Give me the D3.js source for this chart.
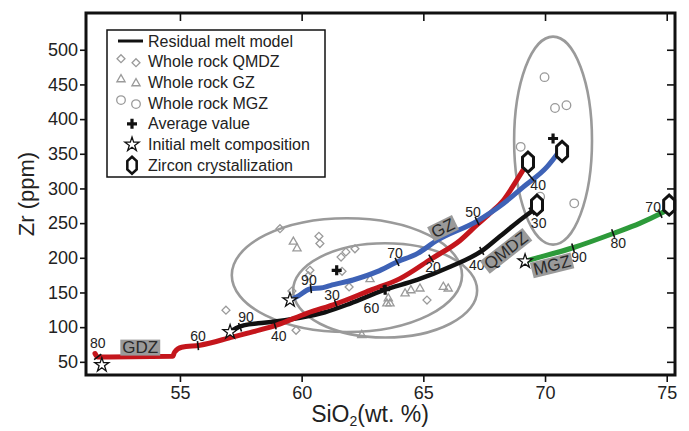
<!DOCTYPE html>
<html>
<head>
<meta charset="utf-8">
<script src="https://cdn.jsdelivr.net/npm/d3@7"></script>
<style>
  html, body { margin: 0; padding: 0; background: #fff; }
  svg { display: block; font-family: "Liberation Sans", Arial, sans-serif; }
</style>
</head>
<body>
<script>
// ---- Data: SiO2 (wt. %) vs Zr (ppm) ----

// Residual melt model curves [SiO2, Zr]
const gdzMelt = [[51.51,62],[51.62,57],[54.70,58],[54.78,64],[55.07,71],[55.82,74],[57.18,86],[58.29,96],
  [58.97,103],[60.21,120],[61.44,134],[62.81,153],[64.04,170],[65.35,199],[66.51,225],[67.19,247],
  [67.80,266],[68.29,283],[68.84,312],[69.18,331]];
const qmdzMelt = [[57.06,93],[57.30,98.5],[57.67,103],[58.21,105.5],[58.90,108],[59.93,113.5],[60.96,121.5],
  [61.99,134],[63.34,153],[64.74,168],[66.10,187],[67.45,211],[68.15,231],[68.85,251],[69.51,268.5]];
const gzMelt = [[59.52,139],[59.81,144],[60.34,155],[60.88,157],[61.17,160],[62.11,168],[63.10,180],
  [63.92,194],[64.75,206],[65.56,225],[67.21,253],[68.28,278],[69.10,302],[70.08,331],[70.62,355]];
const mgzMelt = [[69.18,195],[69.38,197],[71.15,214.5],[72.80,235],[73.91,250],[74.73,263.5],[75.0,268.5]];

// Melt fraction marks along each curve [SiO2, Zr, label]
const gdzMarks  = [[51.62,57,"80"],[55.74,73.3,"60"],[58.90,103,"40"],[61.41,133,"30"],[65.32,199,"20"]];
const qmdzMarks = [[57.47,100,"90"],[63.40,154,"60"],[67.40,210,"40"],[69.45,267,"30"]];
const gzMarks   = [[60.38,155.5,"90"],[63.92,194,"70"],[67.21,253,"50"],[69.43,316,"40"]];
const mgzMarks  = [[71.15,214.5,"90"],[72.80,235,"80"],[74.73,263.5,"70"]];

// Whole rock analyses [SiO2, Zr]
const qmdzRock = [[56.89,124.5],[59.11,242],[60.71,231],[60.75,220.5],[61.62,201],[61.82,208.5],[62.19,213],
  [60.34,182],[60.28,174],[59.60,152],[61.95,158],[59.77,95.5],[65.15,139],[61.66,180.5]];
const gzRock = [[59.66,223],[59.81,213.5],[62.81,169],[63.56,141.5],[63.63,134],[63.50,134],[64.25,148.5],
  [64.49,153],[64.86,155.5],[65.82,158],[66.02,155.5],[62.47,88.5]];
const mgzRock = [[69.98,460.5],[70.41,416],[70.88,420],[69.00,360],[71.20,278.5],[69.80,288]];

// Average values [SiO2, Zr]
const averages = [[61.44,182],[63.43,154],[70.33,372]];
// Initial melt compositions [SiO2, Zr]
const initialMelts = [[51.79,45.5],[57.06,93],[59.52,139],[69.18,195]];
// Zircon crystallization onset [SiO2, Zr]
const zirconPoints = [[69.30,338],[69.67,276],[70.70,353.5],[75.10,276]];

// Compositional fields: centre SiO2, centre Zr, half-width SiO2, half-height Zr
const fields = [[61.86,175,4.73,82],[63.43,153,3.78,68],[70.33,369,1.60,150]];

// Axis ticks
const xTicks = [55, 60, 65, 70, 75];
const yTicks = [50, 100, 150, 200, 250, 300, 350, 400, 450, 500];

// Series names
const seriesNames = ["GDZ", "QMDZ", "GZ", "MGZ"];
const legendLabels = ["Residual melt model", "Whole rock QMDZ", "Whole rock GZ", "Whole rock MGZ",
  "Average value", "Initial melt composition", "Zircon crystallization"];

// ---- Layout / style ----
const W = 689, H = 431;
const plot = { left: 86, right: 675, top: 13, bottom: 375 };
const colors = { GDZ: "#c4161c", QMDZ: "#111111", GZ: "#3e62b6", MGZ: "#2d9a3a" };
const grey = "#9a9a9a";

// label offsets (px) from each melt-fraction mark
const markOffsets = {
  GDZ:  [[0,-14],[0,-10],[4,11],[-4,-9],[2,9]],
  QMDZ: [[6,-10],[-13,18],[-5,14],[7,12]],
  GZ:   [[-2,-9],[-2,-9],[-4,-9],[7,8]],
  MGZ:  [[6,9],[5,9],[-7,-7]]
};
// series name tags: anchor [SiO2, Zr] and rotation
const tagPlacement = {
  GDZ:  { at: [53.37, 70.5], angle: 0 },
  QMDZ: { at: [68.40, 210], angle: -38 },
  GZ:   { at: [65.81, 242.5], angle: -26 },
  MGZ:  { at: [70.29, 189], angle: -14 }
};

const x = d3.scaleLinear().domain([51.14, 75.34]).range([plot.left, plot.right]);
const y = d3.scaleLinear().domain([31, 553]).range([plot.bottom, plot.top]);

const svg = d3.select("body").append("svg").attr("width", W).attr("height", H);
svg.append("rect").attr("width", W).attr("height", H).attr("fill", "#fff");

// ---- Compositional fields ----
svg.append("g").selectAll("ellipse").data(fields).join("ellipse")
  .attr("cx", d => x(d[0])).attr("cy", d => y(d[1]))
  .attr("rx", d => x(d[0] + d[2]) - x(d[0]))
  .attr("ry", d => y(d[1]) - y(d[1] + d[3]))
  .attr("fill", "none").attr("stroke", grey).attr("stroke-width", 2.6);

// ---- Whole rock symbols ----
const diamond = d3.symbol().type(d3.symbolDiamond2).size(40);
const triangle = d3.symbol().type(d3.symbolTriangle2).size(48);
const rocks = svg.append("g").attr("fill", "none").attr("stroke", grey).attr("stroke-width", 1.3);
rocks.selectAll(".qm").data(qmdzRock).join("path").attr("class", "qm")
  .attr("d", diamond).attr("transform", d => `translate(${x(d[0])},${y(d[1])})`);
rocks.selectAll(".gz").data(gzRock).join("path").attr("class", "gz")
  .attr("d", triangle).attr("transform", d => `translate(${x(d[0])},${y(d[1])})`);
rocks.selectAll(".mg").data(mgzRock).join("circle").attr("class", "mg")
  .attr("cx", d => x(d[0])).attr("cy", d => y(d[1])).attr("r", 4.3);

// ---- Residual melt curves ----
const line = d3.line().x(d => x(d[0])).y(d => y(d[1])).curve(d3.curveMonotoneX);
const curves = [
  { name: "QMDZ", pts: qmdzMelt, marks: qmdzMarks, w: 4.5 },
  { name: "GDZ",  pts: gdzMelt,  marks: gdzMarks,  w: 5 },
  { name: "GZ",   pts: gzMelt,   marks: gzMarks,   w: 5 },
  { name: "MGZ",  pts: mgzMelt,  marks: mgzMarks,  w: 5 }
];
curves.forEach(c => {
  svg.append("path").attr("d", line(c.pts)).attr("fill", "none")
    .attr("stroke", colors[c.name]).attr("stroke-width", c.w)
    .attr("stroke-linecap", "round").attr("stroke-linejoin", "round");
});

// melt fraction ticks (perpendicular to the local curve direction) and labels
function localAngle(pts, sx) {
  for (let i = 0; i < pts.length - 1; i++) {
    if (sx >= pts[i][0] && sx <= pts[i + 1][0]) {
      return Math.atan2(y(pts[i + 1][1]) - y(pts[i][1]), x(pts[i + 1][0]) - x(pts[i][0]));
    }
  }
  const n = pts.length;
  return Math.atan2(y(pts[n - 1][1]) - y(pts[n - 2][1]), x(pts[n - 1][0]) - x(pts[n - 2][0]));
}
curves.forEach(c => {
  c.marks.forEach((m, i) => {
    const px = x(m[0]), py = y(m[1]);
    const a = localAngle(c.pts, m[0]);
    const nx = -Math.sin(a), ny = Math.cos(a);
    svg.append("line")
      .attr("x1", px - nx * 4.5).attr("y1", py - ny * 4.5)
      .attr("x2", px + nx * 4.5).attr("y2", py + ny * 4.5)
      .attr("stroke", "#111").attr("stroke-width", 1.6);
    const off = markOffsets[c.name][i];
    svg.append("text").attr("x", px + off[0]).attr("y", py + off[1])
      .attr("text-anchor", "middle").attr("dominant-baseline", "central")
      .attr("font-size", 14).attr("fill", "#222").text(m[2]);
  });
});

// ---- Series name tags ----
seriesNames.forEach(name => {
  const p = tagPlacement[name];
  const g = svg.append("g")
    .attr("transform", `translate(${x(p.at[0])},${y(p.at[1])}) rotate(${p.angle})`);
  const rect = g.append("rect").attr("fill", grey);
  const t = g.append("text").attr("text-anchor", "middle").attr("dominant-baseline", "central")
    .attr("font-size", 17).attr("fill", "#2a2a2a").text(name);
  const w = t.node().getComputedTextLength();
  rect.attr("x", -w / 2 - 2).attr("y", -8).attr("width", w + 4).attr("height", 16);
});

// ---- Initial melts, zircon points, averages ----
const star = d3.symbol().type(d3.symbolStar).size(62);
const hexPath = "M0,-10L5.5,-5L5.5,5L0,10L-5.5,5L-5.5,-5Z";
const plusPath = "M-5,0H5M0,-5V5";

svg.append("g").selectAll("path").data(initialMelts).join("path")
  .attr("d", star).attr("transform", d => `translate(${x(d[0])},${y(d[1])})`)
  .attr("fill", "#fff").attr("stroke", "#111").attr("stroke-width", 1.3);
svg.append("g").selectAll("path").data(zirconPoints).join("path")
  .attr("d", hexPath).attr("transform", d => `translate(${x(d[0])},${y(d[1])})`)
  .attr("fill", "#fff").attr("stroke", "#111").attr("stroke-width", 3);
svg.append("g").selectAll("path").data(averages).join("path")
  .attr("d", plusPath).attr("transform", d => `translate(${x(d[0])},${y(d[1])})`)
  .attr("fill", "none").attr("stroke", "#111").attr("stroke-width", 3.2);

// ---- Axes ----
const fontAxis = 18;
const gx = svg.append("g").attr("transform", `translate(0,${plot.bottom})`)
  .call(d3.axisBottom(x).tickValues(xTicks).tickSize(7).tickSizeOuter(0).tickPadding(4));
const gy = svg.append("g").attr("transform", `translate(${plot.left},0)`)
  .call(d3.axisLeft(y).tickValues(yTicks).tickSize(6).tickSizeOuter(0).tickPadding(2));
const gt = svg.append("g").attr("transform", `translate(0,${plot.top})`)
  .call(d3.axisTop(x).tickValues(xTicks).tickSize(-8).tickSizeOuter(0).tickFormat(""));
const gr = svg.append("g").attr("transform", `translate(${plot.right},0)`)
  .call(d3.axisRight(y).tickValues(yTicks).tickSize(-8).tickSizeOuter(0).tickFormat(""));
[gx, gy, gt, gr].forEach(g => {
  g.select(".domain").remove();
  g.selectAll(".tick line").attr("stroke", "#111").attr("stroke-width", 1.6);
  g.selectAll(".tick text").attr("font-size", fontAxis).attr("fill", "#222")
    .attr("font-family", "Liberation Sans, Arial, sans-serif");
});

// plot frame
svg.append("rect").attr("x", plot.left).attr("y", plot.top)
  .attr("width", plot.right - plot.left).attr("height", plot.bottom - plot.top)
  .attr("fill", "none").attr("stroke", "#111").attr("stroke-width", 3);

// axis titles
const xt = svg.append("text").attr("x", 370).attr("y", 422).attr("text-anchor", "middle")
  .attr("font-size", 23).attr("fill", "#222");
xt.append("tspan").text("SiO");
xt.append("tspan").attr("font-size", 14).attr("dy", 4).text("2");
xt.append("tspan").attr("dy", -4).text("(wt. %)");

svg.append("text").attr("transform", "translate(34,194) rotate(-90)")
  .attr("text-anchor", "middle").attr("font-size", 22).attr("fill", "#222").text("Zr (ppm)");

// ---- Legend ----
const lg = svg.append("g");
lg.append("rect").attr("x", 107).attr("y", 30).attr("width", 218).attr("height", 147)
  .attr("fill", "#fff").attr("stroke", "#111").attr("stroke-width", 1.5);
const rowY = i => 41 + i * 20.7;
legendLabels.forEach((lab, i) => {
  lg.append("text").attr("x", 148).attr("y", rowY(i)).attr("dominant-baseline", "central")
    .attr("font-size", 16).attr("fill", "#222").text(lab);
});
lg.append("line").attr("x1", 118).attr("x2", 143).attr("y1", rowY(0)).attr("y2", rowY(0))
  .attr("stroke", "#111").attr("stroke-width", 3);
const lsym = lg.append("g").attr("fill", "none").attr("stroke", grey).attr("stroke-width", 1.3);
[[121, -3], [136, 1]].forEach(o => {
  lsym.append("path").attr("d", diamond).attr("transform", `translate(${o[0]},${rowY(1) + o[1]})`);
  lsym.append("path").attr("d", triangle).attr("transform", `translate(${o[0]},${rowY(2) + o[1]})`);
  lsym.append("circle").attr("cx", o[0]).attr("cy", rowY(3) + o[1]).attr("r", 4.3);
});
lg.append("path").attr("d", plusPath).attr("transform", `translate(132,${rowY(4)})`)
  .attr("stroke", "#111").attr("stroke-width", 3.2);
lg.append("path").attr("d", star).attr("transform", `translate(132,${rowY(5)})`)
  .attr("fill", "#fff").attr("stroke", "#111").attr("stroke-width", 1.3);
lg.append("path").attr("d", hexPath).attr("transform", `translate(132,${rowY(6)}) scale(0.85)`)
  .attr("fill", "#fff").attr("stroke", "#111").attr("stroke-width", 3);
</script>
</body>
</html>
